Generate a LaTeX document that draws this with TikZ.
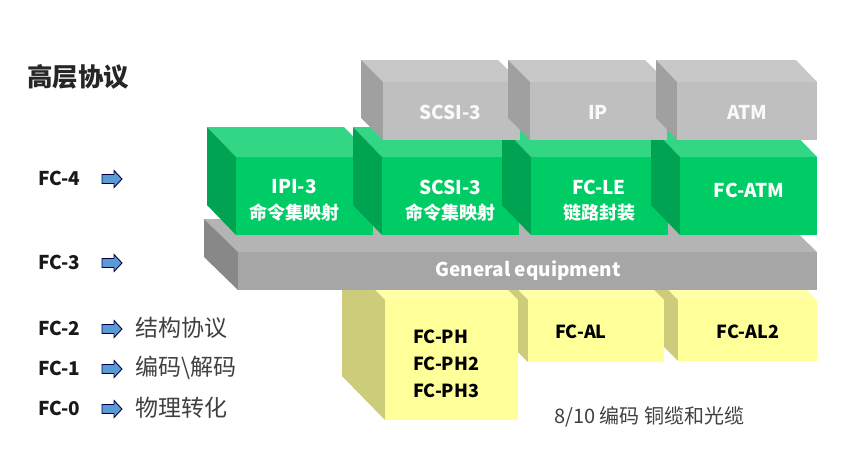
\documentclass[tikz,border=0pt]{standalone}
\usepackage{fontspec}
\setmainfont{Noto Sans CJK SC}
\definecolor{gfront}{RGB}{0,204,102}
\definecolor{gtop}{RGB}{51,214,133}
\definecolor{gside}{RGB}{0,163,82}
\definecolor{tfront}{RGB}{191,191,191}
\definecolor{ttop}{RGB}{200,200,200}
\definecolor{tside}{RGB}{160,160,160}
\definecolor{bfront}{RGB}{166,166,166}
\definecolor{btop}{RGB}{180,180,180}
\definecolor{bside}{RGB}{136,136,136}
\definecolor{yfront}{RGB}{255,255,153}
\definecolor{ytop}{RGB}{255,255,170}
\definecolor{yside}{RGB}{204,204,122}
\definecolor{arrowblue}{RGB}{91,155,213}
\definecolor{darktext}{RGB}{64,64,64}
\newcommand{\blockbox}[9]{%
  \fill[#8] (#1,#2) -- (#1-#5,#2-#6) -- (#3-#5,#2-#6) -- (#3,#2) -- cycle;
  \fill[#9] (#1,#2) -- (#1-#5,#2-#6) -- (#1-#5,#4-#6) -- (#1,#4) -- cycle;
  \fill[#7] (#1,#2) rectangle (#3,#4);}
\tikzset{
  latlab/.style={font=\bfseries\fontsize{19}{22}\selectfont, text=white, inner sep=0pt},
  cjklab/.style={font=\bfseries\fontsize{18}{20}\selectfont, text=white, inner sep=0pt},
  graylab/.style={font=\bfseries\fontsize{19}{22}\selectfont, text=white!95!gray, inner sep=0pt},
  ylab/.style={font=\bfseries\fontsize{18}{27}\selectfont, text=black, inner sep=0pt, align=left},
  fclab/.style={font=\bfseries\fontsize{19}{22}\selectfont, text=black!90, inner sep=0pt, anchor=west},
  desc/.style={font=\fontsize{23}{26}\selectfont, text=darktext, inner sep=0pt, anchor=west},
  pics/blkarrow/.style={code={
    \draw[draw=black!75!blue, line width=0.9pt, fill=arrowblue, line join=miter]
      (-10,-4.5) -- (2,-4.5) -- (2,-8.5) -- (10,0) -- (2,8.5) -- (2,4.5) -- (-10,4.5) -- cycle;}}
}
\begin{document}
\begin{tikzpicture}[x=1pt,y=-1pt]
\useasboundingbox (0,0) rectangle (865,461);
\fill[white] (0,0) rectangle (865,461);
% yellow blocks (right to left)
\blockbox{678}{300}{817}{361}{44}{44}{yfront}{ytop}{yside}
\blockbox{528}{300}{664}{362}{44}{44}{yfront}{ytop}{yside}
\blockbox{385}{300}{518}{420}{43}{44}{yfront}{ytop}{yside}
% general equipment bar
\blockbox{238}{252}{817}{290}{34}{33}{bfront}{btop}{bside}
% green blocks (left to right)
\blockbox{236}{157}{373}{235}{29}{30}{gfront}{gtop}{gside}
\blockbox{382}{157}{519}{235}{29}{30}{gfront}{gtop}{gside}
\blockbox{531}{157}{668}{235}{29}{30}{gfront}{gtop}{gside}
\blockbox{680}{157}{817}{235}{29}{30}{gfront}{gtop}{gside}
% gray top blocks
\blockbox{383}{82}{520}{140}{22}{22}{tfront}{ttop}{tside}
\blockbox{530}{82}{667}{140}{22}{22}{tfront}{ttop}{tside}
\blockbox{677}{82}{817}{140}{21}{22}{tfront}{ttop}{tside}
% texts in blocks
\node[graylab] (tscsi) at (450,112) {SCSI-3};
\node[graylab] (tip) at (598,112) {IP};
\node[graylab] (tatm) at (747,112) {ATM};
\node[latlab] (ipi) at (294,187) {IPI-3};
\node[cjklab] (ipic) at (294,213) {命令集映射};
\node[latlab] (scsi) at (450,187) {SCSI-3};
\node[cjklab] (scsic) at (450,213) {命令集映射};
\node[latlab] (fcle) at (599,187) {FC-LE};
\node[cjklab] (fclec) at (599,213) {链路封装};
\node[latlab] (fcatm) at (749,190) {FC-ATM};
\node[font=\bfseries\fontsize{19}{22}\selectfont, text=white, inner sep=0pt] (gen) at (528,271) {General equipment};
\node[ylab, anchor=north west] (fcph) at (413,330) {FC-PH\\FC-PH2\\FC-PH3};
\node[ylab] (fcal) at (581,332) {FC-AL};
\node[ylab] (fcal2) at (748,332) {FC-AL2};
\node[font=\fontsize{20}{22}\selectfont, text=darktext, inner sep=0pt, anchor=west] (code) at (554,417) {8/10 编码 铜缆和光缆};
% left labels
\node[font=\bfseries\fontsize{25.5}{29}\selectfont, text=black!85, inner sep=0pt, anchor=west] (hl) at (27,77) {高层协议};
\node[fclab] (fc4) at (38,178) {FC-4};
\node[fclab] (fc3) at (38,262) {FC-3};
\node[fclab] (fc2) at (38,328) {FC-2};
\node[fclab] (fc1) at (38,368) {FC-1};
\node[fclab] (fc0) at (38,408) {FC-0};
\pic at (112,179) {blkarrow};
\pic at (112,263) {blkarrow};
\pic at (112,329) {blkarrow};
\pic at (112,369) {blkarrow};
\pic at (112,409) {blkarrow};
\node[desc] (d2) at (135,328) {结构协议};
\node[desc] (d1) at (135,368) {编码\textbackslash 解码};
\node[desc] (d0) at (135,408) {物理转化};
\end{tikzpicture}
\end{document}
